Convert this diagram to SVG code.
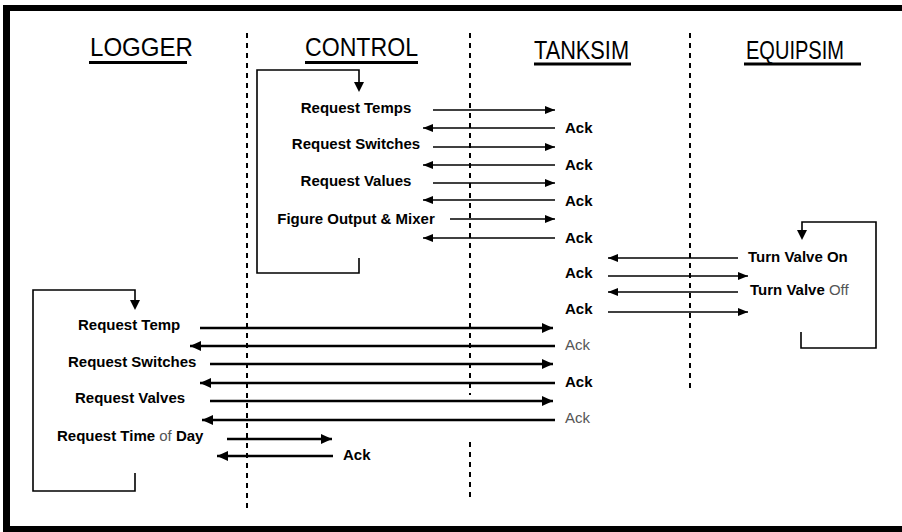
<svg xmlns="http://www.w3.org/2000/svg" width="902" height="532" viewBox="0 0 902 532">
<defs>
<style>
.hdr{font-family:"Liberation Sans",Arial,sans-serif;font-size:26px;fill:#000}
.lbl{font-family:"Liberation Sans",Arial,sans-serif;font-weight:bold;font-size:15px;fill:#000}
.gray{font-weight:normal;fill:#555}
.ul{stroke:#000;stroke-width:3}
.dash{stroke:#000;stroke-width:2;stroke-dasharray:5 5;fill:none}
.loop{fill:none;stroke:#000;stroke-width:1.6}
.m{stroke:#000;stroke-width:1.6;fill:none}
.mb{stroke:#000;stroke-width:2.6;fill:none}
.frame{stroke:#000;fill:none}
</style>
<marker id="ah" markerUnits="userSpaceOnUse" markerWidth="11" markerHeight="9" refX="10" refY="4" orient="auto">
<path d="M0,0 L10,4 L0,8 z" fill="#000"/>
</marker>
<marker id="ahL" markerUnits="userSpaceOnUse" markerWidth="12" markerHeight="11" refX="11" refY="5" orient="auto">
<path d="M0,0 L11,5 L0,10 z" fill="#000"/>
</marker>
</defs>
<rect width="902" height="532" fill="#fff"/>
<g id="frame" class="frame">
<line x1="6.5" y1="5" x2="6.5" y2="532" stroke-width="7"/>
<line x1="3" y1="8" x2="902" y2="8" stroke-width="6"/>
<line x1="3" y1="529" x2="902" y2="529" stroke-width="6"/>
</g>
<g id="logger">
<text class="hdr" x="90" y="56" textLength="103" lengthAdjust="spacingAndGlyphs">LOGGER</text>
<line class="ul" x1="89" y1="62.5" x2="187" y2="62.5"/>
<line class="dash" x1="247" y1="33" x2="247" y2="512"/>
<path class="loop" d="M135,473 V491 H33 V290 H135 V302"/>
<path d="M130,300 L140,300 L135,310 z" fill="#000"/>
</g>
<g id="control">
<text class="hdr" x="305" y="56" textLength="113" lengthAdjust="spacingAndGlyphs">CONTROL</text>
<line class="ul" x1="305" y1="62.5" x2="418" y2="62.5"/>
<line class="dash" x1="470" y1="33" x2="470" y2="395"/>
<line class="dash" x1="470" y1="442" x2="470" y2="500"/>
<path class="loop" d="M359,258 V273 H257 V70 H359 V84"/>
<path d="M354,82 L364,82 L359,92 z" fill="#000"/>
</g>
<g id="tanksim">
<text class="hdr" x="534" y="59" textLength="95" lengthAdjust="spacingAndGlyphs">TANKSIM</text>
<line class="ul" x1="534" y1="64" x2="631" y2="64"/>
<line class="dash" x1="690" y1="33" x2="690" y2="393"/>
</g>
<g id="equipsim">
<text class="hdr" x="746" y="59" textLength="98" lengthAdjust="spacingAndGlyphs">EQUIPSIM</text>
<line class="ul" x1="744" y1="64" x2="861" y2="64"/>
<path class="loop" d="M801,332 V348 H876 V222 H802 V232"/>
<path d="M797,230 L807,230 L802,240 z" fill="#000"/>
</g>
<g id="connectors">
<line class="m" x1="433" y1="110" x2="555" y2="110" marker-end="url(#ah)"/>
<line class="m" x1="555" y1="128" x2="423" y2="128" marker-end="url(#ah)"/>
<line class="m" x1="433" y1="147" x2="555" y2="147" marker-end="url(#ah)"/>
<line class="m" x1="555" y1="165" x2="423" y2="165" marker-end="url(#ah)"/>
<line class="m" x1="433" y1="183" x2="555" y2="183" stroke-width="2.6" marker-end="url(#ah)"/>
<line class="m" x1="555" y1="200" x2="423" y2="200" marker-end="url(#ah)"/>
<line class="m" x1="450" y1="219" x2="555" y2="219" marker-end="url(#ah)"/>
<line class="m" x1="555" y1="238" x2="423" y2="238" marker-end="url(#ah)"/>
<line class="m" x1="738" y1="258" x2="608" y2="258" marker-end="url(#ah)"/>
<line class="m" x1="608" y1="276" x2="748" y2="276" marker-end="url(#ah)"/>
<line class="m" x1="738" y1="292" x2="608" y2="292" stroke-width="3.5" marker-end="url(#ah)"/>
<line class="m" x1="608" y1="312" x2="748" y2="312" marker-end="url(#ah)"/>
<line class="mb" x1="200" y1="328" x2="553" y2="328" marker-end="url(#ahL)"/>
<line class="mb" x1="555" y1="346" x2="190" y2="346" marker-end="url(#ahL)"/>
<line class="mb" x1="210" y1="364" x2="553" y2="364" marker-end="url(#ahL)"/>
<line class="mb" x1="555" y1="383" x2="200" y2="383" marker-end="url(#ahL)"/>
<line class="mb" x1="210" y1="401" x2="553" y2="401" marker-end="url(#ahL)"/>
<line class="mb" x1="555" y1="420" x2="202" y2="420" marker-end="url(#ahL)"/>
<line class="mb" x1="227" y1="439" x2="332" y2="439" marker-end="url(#ahL)"/>
<line class="mb" x1="333" y1="456" x2="217" y2="456" marker-end="url(#ahL)"/>
<g id="labels">
<text class="lbl" x="356" y="113" text-anchor="middle">Request Temps</text>
<text class="lbl" x="356" y="149" text-anchor="middle">Request Switches</text>
<text class="lbl" x="356" y="186" text-anchor="middle">Request Values</text>
<text class="lbl" x="356" y="224" text-anchor="middle">Figure Output &amp; Mixer</text>
<text class="lbl" x="565" y="133">Ack</text>
<text class="lbl" x="565" y="170">Ack</text>
<text class="lbl" x="565" y="206">Ack</text>
<text class="lbl" x="565" y="243">Ack</text>
<text class="lbl" x="565" y="278">Ack</text>
<text class="lbl" x="565" y="314">Ack</text>
<text class="lbl" x="748" y="262">Turn Valve On</text>
<text class="lbl" x="750" y="295">Turn Valve <tspan class="gray">Off</tspan></text>
<text class="lbl" x="78" y="330">Request Temp</text>
<text class="lbl" x="68" y="367">Request Switches</text>
<text class="lbl" x="75" y="403">Request Valves</text>
<text class="lbl" x="57" y="441">Request Time <tspan class="gray">of</tspan> Day</text>
<text class="lbl gray" x="565" y="350">Ack</text>
<text class="lbl" x="565" y="387">Ack</text>
<text class="lbl gray" x="565" y="423">Ack</text>
<text class="lbl" x="343" y="460">Ack</text>
</g>
</g>
</svg>
